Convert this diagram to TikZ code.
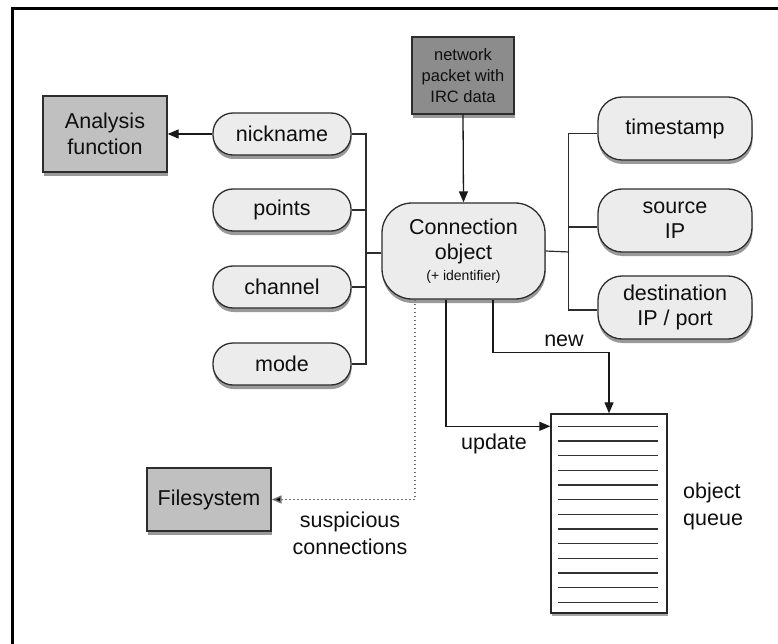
\documentclass[tikz,border=0pt]{standalone}
\usepackage{fontspec}
\setmainfont{Liberation Sans}
\usetikzlibrary{arrows.meta,calc,shadows}
\definecolor{pillfill}{RGB}{236,236,236}
\definecolor{boxgray}{RGB}{192,192,192}
\definecolor{darkbox}{RGB}{140,140,140}
\definecolor{edgecol}{RGB}{45,45,45}
\definecolor{txt}{RGB}{15,15,15}
\tikzset{
  shad/.style={drop shadow={shadow xshift=0.5pt,shadow yshift=-4pt,opacity=0.4,fill=black}},
  pill/.style={draw=edgecol,line width=1.3pt,fill=pillfill,rounded corners=20pt,
    minimum width=138pt,minimum height=42pt,inner sep=0pt,align=center,text=txt,
    font=\fontsize{21.5}{25}\selectfont,shad},
  bigpill/.style={pill,minimum width=154pt,minimum height=63pt,rounded corners=24pt},
  graybox/.style={draw=edgecol,line width=1.3pt,fill=boxgray,inner sep=0pt,align=center,
    text=txt,font=\fontsize{21.5}{26}\selectfont,shad},
  bus/.style={draw=edgecol,line width=1.2pt},
  arr/.style={draw=black!90,line width=1.3pt,-{Triangle[length=11pt,width=9pt]}},
  darr/.style={draw=black!55,line width=1.5pt,dash pattern=on 1.5pt off 2.5pt,-{Triangle[length=10pt,width=8pt,fill=black]}},
  lbl/.style={text=txt,align=center,font=\fontsize{21.5}{27}\selectfont,inner sep=0pt},
  qline/.style={draw=black!80,line width=1.2pt}
}
\begin{document}
\begin{tikzpicture}[x=1pt,y=-1pt]
\useasboundingbox (0,0) rectangle (778,644);
\draw[line width=3pt] (12,644) -- (12,9) -- (778,9);

% left group
\node[graybox,minimum width=124pt,minimum height=76pt] (analysis) at (105,134) {Analysis\\function};
\node[pill] (nick) at (282,134) {nickname};
\node[pill] (points) at (282,210) {points};
\node[pill] (channel) at (282,287) {channel};
\node[pill] (mode) at (282,364) {mode};

% packet and connection object
\node[graybox,fill=darkbox,minimum width=102pt,minimum height=77pt,
  font=\fontsize{16.5}{21}\selectfont] (packet) at (463,75.5) {network\\packet with\\IRC data};
\node[pill,minimum width=163pt,minimum height=96pt,rounded corners=30pt] (conn) at (463.5,251)
  {Connection\\object\\[-4pt]{\fontsize{14}{16}\selectfont (+ identifier)}};

% right group
\node[bigpill] (ts) at (675,128.5) {timestamp};
\node[bigpill] (src) at (675,220.5) {source\\IP};
\node[bigpill] (dst) at (675,307.5) {destination\\IP / port};

% queue
\node[draw=black!85,line width=1.4pt,fill=white,minimum width=116pt,minimum height=199pt,
  inner sep=0pt,drop shadow={shadow xshift=1pt,shadow yshift=-3pt,opacity=0.35,fill=black}] (queue) at (609,513.5) {};
\foreach \k in {0,...,12}
  \draw[qline] ($(queue.north west)+(8,13+\k*14.67)$) -- ++(100,0);

% filesystem
\node[graybox,minimum width=124pt,minimum height=63pt] (fs) at (209,499.5) {Filesystem};

% left bus
\coordinate (lb) at (366,253);
\draw[bus] (nick.east) -| (lb);
\draw[bus] (mode.east) -| (lb);
\draw[bus] (points.east) -- (points.east -| lb);
\draw[bus] (channel.east) -- (channel.east -| lb);
\draw[bus] (conn.west |- lb) -- (lb);

% right bus
\coordinate (rb) at (569,252);
\coordinate (rbt) at ($(ts.west)+(-29,5)$);
\coordinate (rbd) at ($(dst.west)+(-29,2.5)$);
\draw[bus] ($(ts.west)+(0,5)$) -- (rbt) -- (rbd) -- ($(dst.west)+(0,2.5)$);
\draw[bus] ($(src.west)+(0,6.5)$) -- ($(src.west)+(-29,6.5)$);
\draw[bus] (conn.east) -- (rb);

% arrows
\draw[arr] (nick.west) -- (analysis.east);
\draw[arr] (packet.south) -- (conn.north);
\draw[arr] ($(conn.south)+(29.5,0)$) -- ++(0,53) coordinate (nw) -| (queue.north);
\draw[arr] ($(conn.south)+(-17.5,0)$) |- ($(queue.north west)+(0,13)$);
\draw[darr] ($(conn.south)+(-48.5,0)$) |- (fs.east);

% labels
\node[lbl] (lnew) at (564,341) {new};
\node[lbl] (lupd) at (494,444) {update};
\node[lbl] (lsus) at (350,533) {suspicious\\connections};
\node[lbl,align=left,anchor=west] (lq) at (683,506) {object\\queue};
\end{tikzpicture}
\end{document}
